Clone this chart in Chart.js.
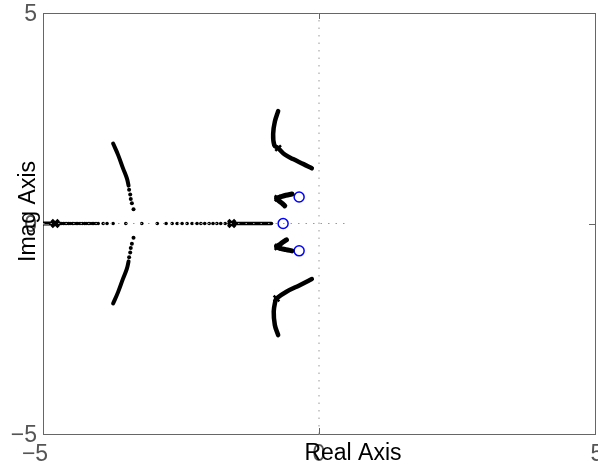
<!DOCTYPE html>
<html>
<head>
<meta charset="utf-8">
<script src="https://cdn.jsdelivr.net/npm/chart.js@4.4.1/dist/chart.umd.min.js"></script>
<style>
  html, body { margin: 0; padding: 0; background: #fff; }
</style>
</head>
<body>
<canvas id="rlocus" width="598" height="468"></canvas>
<script>
// axis range and tick labels
const axisMin = -5;
const axisMax = 5;
const tickValues = [-5, 0, 5];
const tickLabels = ['\u22125', '0', '5'];

// real-axis sample points (imaginary part 0)
const realDots = [-4.66, -4.63, -4.60, -4.57, -4.54, -4.51, -4.47, -4.44, -4.40, -4.37, -4.33,
  -4.29, -4.25, -4.22, -4.18, -4.15, -4.11, -4.08, -4.04, -4.00, -3.91, -3.84, -3.73, -3.50,
  -3.21, -2.93, -2.77, -2.66, -2.57, -2.48, -2.39, -2.30, -2.21, -2.14, -2.07, -1.99, -1.92,
  -1.85, -1.78, -1.70, -1.63];
const realSolidLeft = [-5.0, -4.70];
const realSolidRight = [-1.60, -0.86];

// breakaway arcs on the left
const leftArcUpper = [[-3.73, 1.90], [-3.64, 1.63], [-3.55, 1.31], [-3.48, 1.07], [-3.45, 0.90]];
const leftArcUpperDots = [[-3.44, 0.80], [-3.42, 0.69], [-3.41, 0.58], [-3.39, 0.48], [-3.36, 0.34]];
const leftArcLower = [[-3.73, -1.90], [-3.64, -1.63], [-3.55, -1.31], [-3.48, -1.07], [-3.45, -0.90]];
const leftArcLowerDots = [[-3.44, -0.80], [-3.42, -0.69], [-3.41, -0.58], [-3.39, -0.48], [-3.36, -0.34]];

// branches near the imaginary axis
const rightUpper = [[-0.74, 2.67], [-0.80, 2.42], [-0.83, 2.14], [-0.81, 1.86], [-0.74, 1.79],
  [-0.62, 1.64], [-0.47, 1.53], [-0.28, 1.41], [-0.13, 1.31]];
const rightLower = [[-0.74, -2.65], [-0.80, -2.41], [-0.82, -2.09], [-0.79, -1.84], [-0.77, -1.78],
  [-0.59, -1.62], [-0.34, -1.46], [-0.13, -1.32]];
const smallUpper = [[-0.49, 0.70], [-0.60, 0.67], [-0.70, 0.63], [-0.77, 0.60], [-0.72, 0.53],
  [-0.66, 0.47], [-0.62, 0.42]];
const smallLower = [[-0.59, -0.39], [-0.65, -0.44], [-0.71, -0.50], [-0.77, -0.55], [-0.70, -0.59],
  [-0.60, -0.62], [-0.49, -0.65]];

// open-loop poles and zeros
const realPoles = [[-4.78, 0], [-1.58, 0]];
const complexPoles = [[-0.74, 1.79], [-0.77, -1.78], [-0.75, 0.60], [-0.75, -0.56]];
const zeros = [[-0.36, 0.63], [-0.65, 0], [-0.36, -0.65]];

// dotted reference lines through the origin
const hRefLine = [[-5, 0], [0.56, 0]];
const vRefLine = [[0, -5], [0, 5]];

const pts = (arr) => arr.map(p => ({ x: p[0], y: p[1] }));
const onReal = (arr) => arr.map(v => ({ x: v, y: 0 }));

const lineSet = (data, width) => ({
  data, showLine: true, borderColor: '#000', borderWidth: width,
  pointRadius: 0, borderCapStyle: 'round', borderJoinStyle: 'round', tension: 0.4
});
const dotSet = (data, r) => ({
  data, showLine: false, pointRadius: r, pointHoverRadius: r,
  backgroundColor: '#000', borderColor: '#000', borderWidth: 0
});

const axisFont = '23px "Liberation Sans", Arial, Helvetica, sans-serif';

const labelsPlugin = {
  id: 'labels',
  afterDraw(chart) {
    const { ctx, scales: { x, y } } = chart;
    ctx.save();
    // inward tick marks at zero
    ctx.strokeStyle = '#666';
    ctx.lineWidth = 1;
    const x0 = Math.round(x.getPixelForValue(0)) + 0.5;
    const y0 = Math.round(y.getPixelForValue(0)) + 0.5;
    ctx.beginPath();
    ctx.moveTo(x.right, y0); ctx.lineTo(x.right - 6, y0);
    ctx.moveTo(x.left, y0); ctx.lineTo(x.left + 6, y0);
    ctx.moveTo(x0, y.top); ctx.lineTo(x0, y.top + 6);
    ctx.moveTo(x0, y.bottom); ctx.lineTo(x0, y.bottom - 6);
    ctx.stroke();

    ctx.font = axisFont;
    ctx.textBaseline = 'middle';
    ctx.fillStyle = '#555';
    // y tick labels
    ctx.textAlign = 'right';
    tickValues.forEach((v, i) => {
      ctx.fillText(tickLabels[i], x.left - 6, y.getPixelForValue(v) + 2);
    });
    // x tick labels
    ctx.textAlign = 'center';
    tickValues.forEach((v, i) => {
      const off = i === 0 ? -8 : (i === 2 ? 2 : 0);
      ctx.fillText(tickLabels[i], x.getPixelForValue(v) + off, y.bottom + 21);
    });

    // axis titles
    ctx.fillStyle = '#000';
    ctx.textAlign = 'center';
    ctx.fillText('Real Axis', x.getPixelForValue(0) + 34, y.bottom + 20);
    ctx.translate(x.left - 14, y.getPixelForValue(0) - 12);
    ctx.rotate(-Math.PI / 2);
    ctx.fillText('Imag Axis', 0, 0);
    ctx.restore();
  }
};

const flatAxis = (position) => ({
  type: 'linear', position, min: axisMin, max: axisMax, display: true,
  ticks: { display: false }, grid: { display: false, drawTicks: false },
  border: { display: true, color: '#666', width: 1 },
  afterFit(scale) {
    if (scale.isHorizontal()) scale.height = 0; else scale.width = 0;
  }
});

new Chart(document.getElementById('rlocus'), {
  type: 'scatter',
  data: {
    datasets: [
      { data: pts(hRefLine), showLine: true, borderColor: '#999', borderWidth: 1, borderDash: [1.5, 6], pointRadius: 0 },
      { data: pts(vRefLine), showLine: true, borderColor: '#999', borderWidth: 1, borderDash: [1.5, 6], pointRadius: 0 },
      lineSet(onReal(realSolidLeft), 4),
      lineSet(onReal(realSolidRight), 3.5),
      dotSet(onReal(realDots), 1.8),
      lineSet(pts(leftArcUpper), 4),
      lineSet(pts(leftArcLower), 4),
      dotSet(pts(leftArcUpperDots), 2),
      dotSet(pts(leftArcLowerDots), 2),
      lineSet(pts(rightUpper), 4.5),
      lineSet(pts(rightLower), 4.5),
      lineSet(pts(smallUpper), 5),
      lineSet(pts(smallLower), 5),
      {
        data: pts(realPoles), showLine: false, pointStyle: 'crossRot', pointRadius: 5,
        borderColor: '#000', borderWidth: 3.5
      },
      {
        data: pts(complexPoles), showLine: false, pointStyle: 'crossRot', pointRadius: 4,
        borderColor: '#000', borderWidth: 2.5
      },
      {
        data: pts(zeros), showLine: false, pointStyle: 'circle', pointRadius: 5,
        borderColor: '#0000ff', backgroundColor: 'rgba(0,0,0,0)', borderWidth: 1.5
      }
    ]
  },
  options: {
    responsive: false,
    animation: false,
    events: [],
    layout: { autoPadding: false, padding: { left: 43, top: 13, right: 3, bottom: 34 } },
    plugins: { legend: { display: false }, tooltip: { enabled: false } },
    scales: {
      x: flatAxis('bottom'),
      y: flatAxis('left'),
      x2: flatAxis('top'),
      y2: flatAxis('right')
    }
  },
  plugins: [labelsPlugin]
});
</script>
</body>
</html>
